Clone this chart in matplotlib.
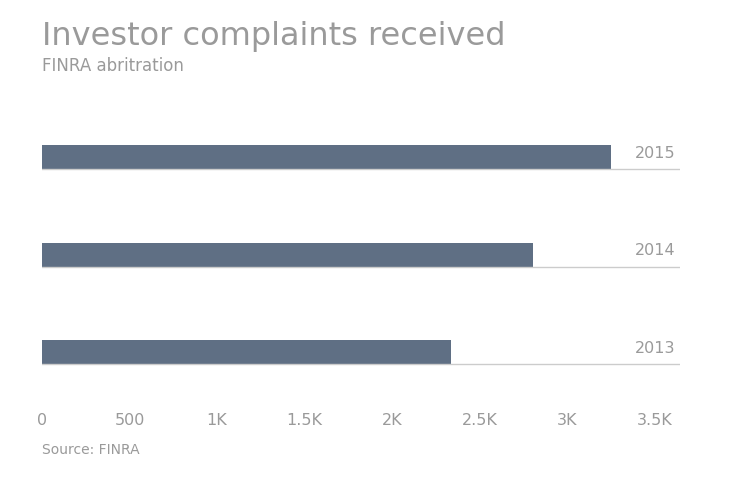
import matplotlib
matplotlib.use('Agg')
import matplotlib.pyplot as plt

years = ['2013', '2014', '2015']
complaints = [2337, 2806, 3251]
ticks = [0, 500, 1000, 1500, 2000, 2500, 3000, 3500]
tick_labels = ['0', '500', '1K', '1.5K', '2K', '2.5K', '3K', '3.5K']

grey = '#9a9a9a'
bar_color = '#5f6f84'

fig = plt.figure(figsize=(7.4, 4.82), dpi=100)
ax = fig.add_axes([42/740, 1-380/482, 638/740, 260/482])
pos = list(range(len(years)))
h = 0.246
ax.barh(pos, complaints, height=h, color=bar_color, zorder=2)
for y, lab in zip(pos, years):
    ax.plot([0, 3646], [y - h/2, y - h/2], color='#cccccc', lw=1, zorder=3)
    ax.text(3620, y + 0.04, lab, ha='right', va='center', color=grey, fontsize=11.5)
ax.set_xlim(0, 3646)
ax.set_ylim(-0.287, 2.38)
ax.set_xticks(ticks)
ax.set_xticklabels(tick_labels, color=grey, fontsize=11.5)
ax.tick_params(axis='x', length=0, pad=24)
ax.set_yticks([])
for s in ax.spines.values():
    s.set_visible(False)

fig.text(42/740, 1-37/482, 'Investor complaints received', color=grey, fontsize=23, va='center')
fig.text(42/740, 1-66/482, 'FINRA abritration', color=grey, fontsize=12, va='center')
fig.text(42/740, 1-450/482, 'Source: FINRA', color=grey, fontsize=10, va='center')

fig.savefig('out.png', dpi=100)
